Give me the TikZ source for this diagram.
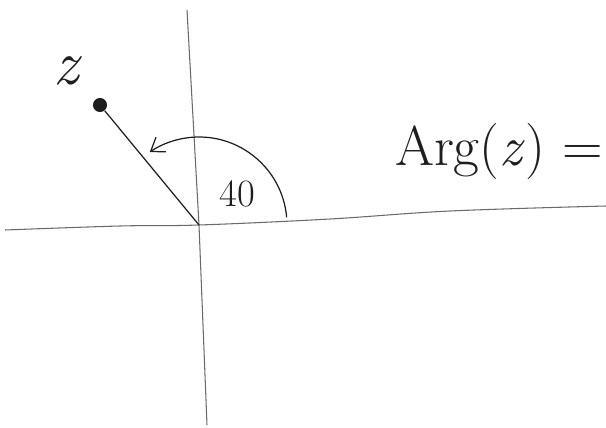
\documentclass[tikz,border=0pt]{standalone}
\usepackage{xcolor}
\usetikzlibrary{arrows.meta,positioning,calc}
\definecolor{AxisGray}{HTML}{6A6A6A}
\definecolor{InkBlack}{HTML}{1E1E1E}
\tikzset{
  axisline/.style={AxisGray,line width=0.6pt},
  inkline/.style={InkBlack,line width=0.7pt},
  handtext/.style={text=InkBlack,inner sep=0pt}
}
\begin{document}
\begin{tikzpicture}[x=0.02cm,y=0.02cm,>={Straight Barb[length=7pt,width=10pt]}]
  \useasboundingbox (0,0) rectangle (606,427);
  \clip (0,0) rectangle (606,427);
  \coordinate (O) at (199,202);
  \coordinate (ytop) at (187,417);
  \coordinate (ybot) at (207,2);
  \coordinate (xleft) at (5,197);
  \coordinate (xright) at (606,221);
  % axes
  \draw[axisline] (ytop) -- (O) -- (ybot);
  \draw[axisline] plot[smooth,tension=0.6] coordinates {(xleft) (120,201) (O) (330,208) (450,216) (xright)};
  % the point z and its ray
  \node[circle,fill=InkBlack,inner sep=0pt,minimum size=8pt] (zpt) at (100,322) {};
  \node[handtext,font=\fontsize{36}{36}\selectfont\itshape] (zlab) at (66,356) {z};
  \draw[inkline] (zpt) -- (O);
  % angle arc
  \draw[inkline,->] ($(O)+(5:88)$) arc[start angle=5,end angle=124,radius=88];
  \node[handtext,font=\fontsize{22}{22}\selectfont] (angle) at (237,233) {40};
  \node[handtext,font=\fontsize{32}{32}\selectfont,anchor=base east] (arg) at (603,262) {Arg(\textit{z}) =};
\end{tikzpicture}
\end{document}
